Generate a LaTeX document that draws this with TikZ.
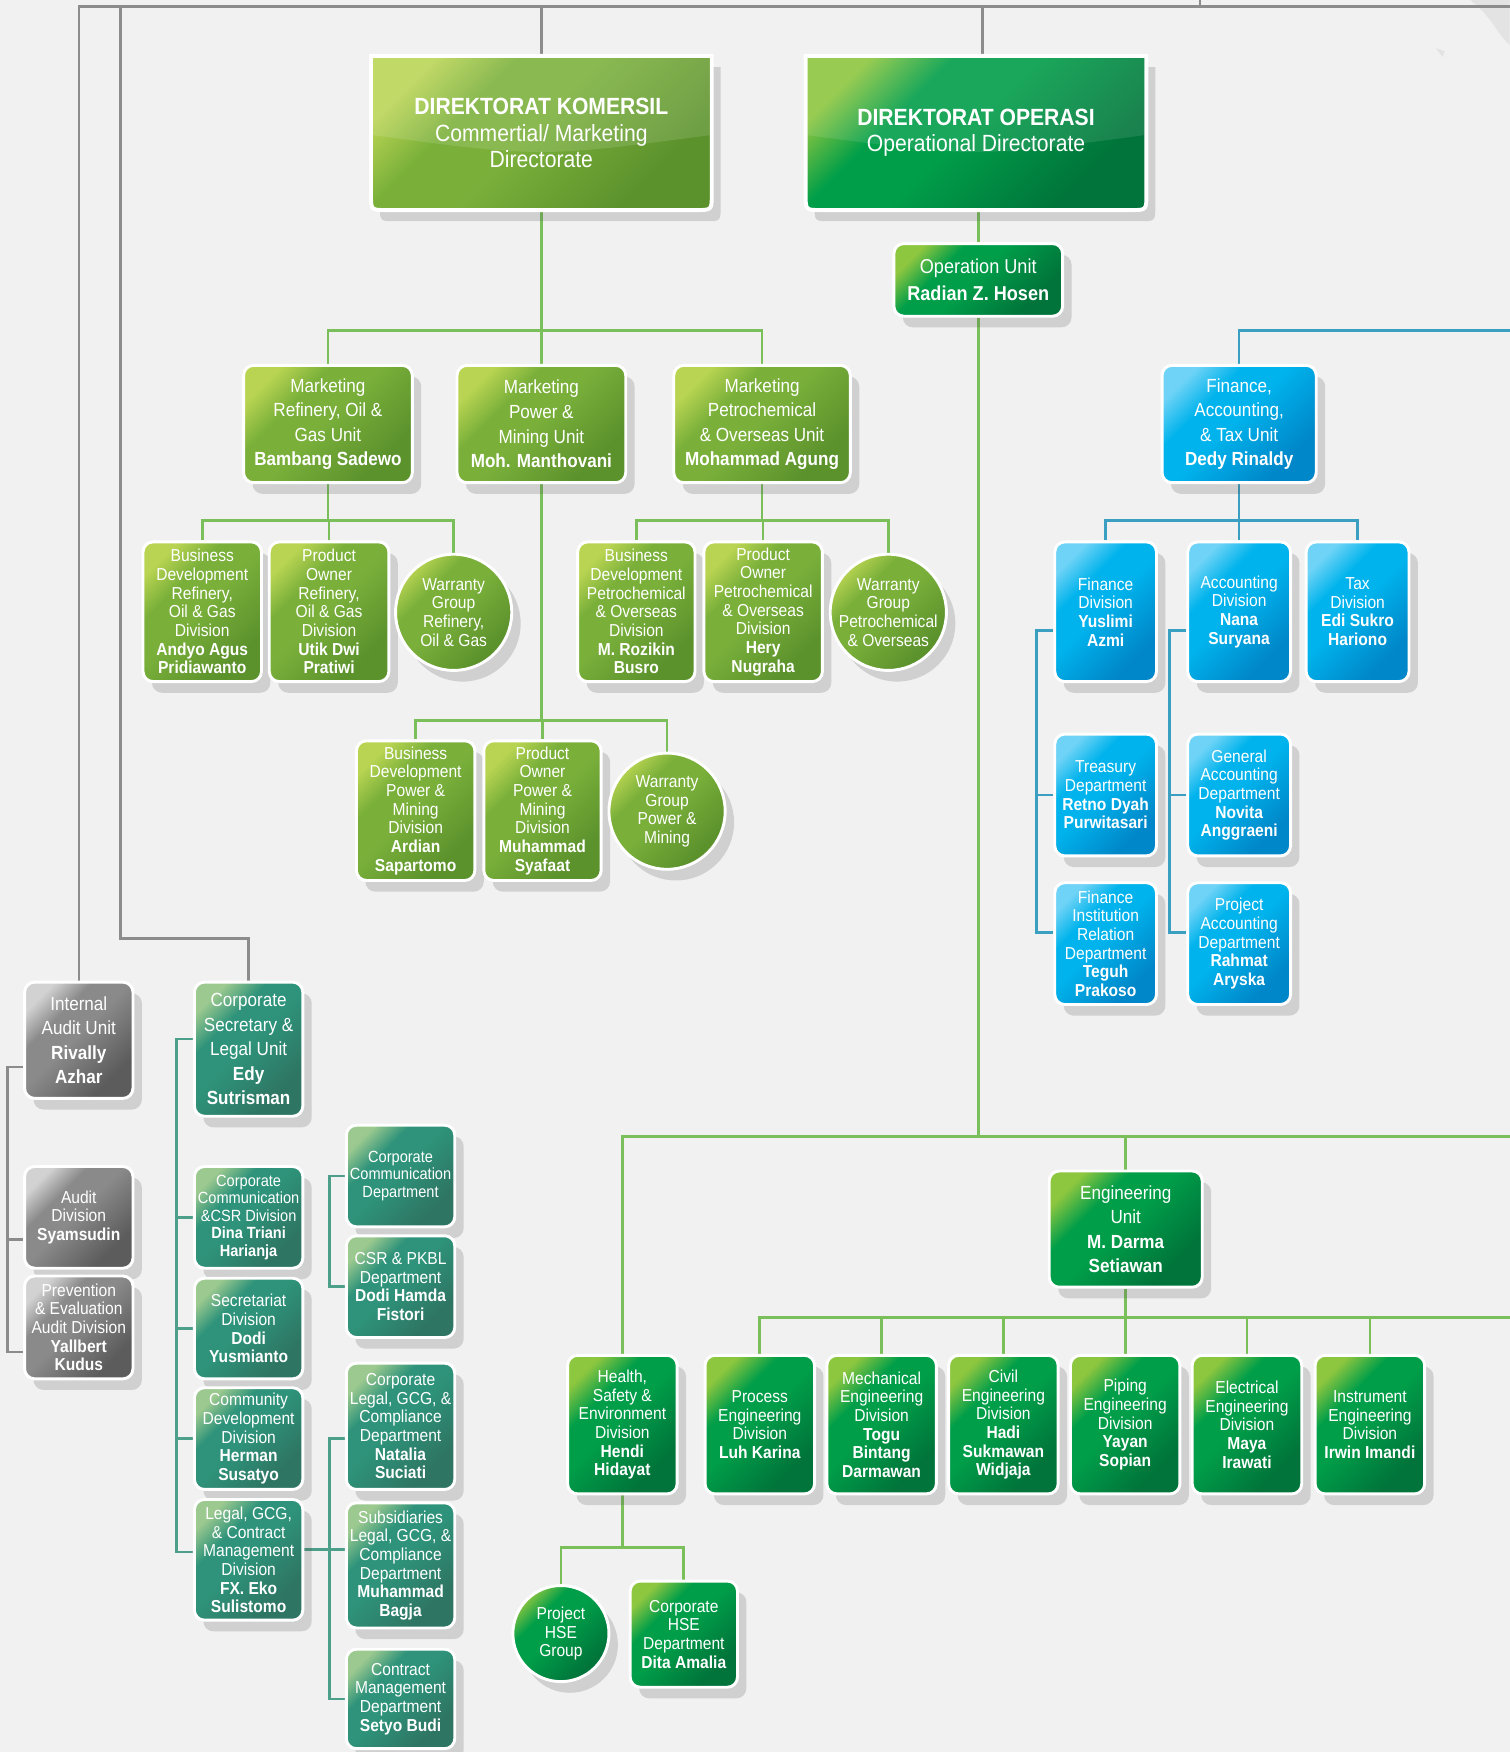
\documentclass[tikz,border=0pt]{standalone}
\usepackage{fontspec}
\setmainfont{Liberation Sans}[FakeStretch=0.9]
\usetikzlibrary{shadows,backgrounds}

\definecolor{bgc}{HTML}{F1F1F1}
\definecolor{mapc}{HTML}{E3E3E3}
\definecolor{lgA}{HTML}{B9D452}\definecolor{lgB}{HTML}{7AB03A}\definecolor{lgC}{HTML}{5C922C}
\definecolor{dgA}{HTML}{8DC63F}\definecolor{dgB}{HTML}{009E49}\definecolor{dgC}{HTML}{00743A}
\definecolor{blA}{HTML}{6ED3F6}\definecolor{blB}{HTML}{00B3EC}\definecolor{blC}{HTML}{0087C9}
\definecolor{tlA}{HTML}{9CC98F}\definecolor{tlB}{HTML}{2E937A}\definecolor{tlC}{HTML}{2E7563}
\definecolor{grA}{HTML}{D2D2D2}\definecolor{grB}{HTML}{8A8A8A}\definecolor{grC}{HTML}{5C5C5C}
\definecolor{lnG}{HTML}{7BBF5A}\definecolor{lnB}{HTML}{3A9FC0}
\definecolor{lnT}{HTML}{4C9F88}\definecolor{lnK}{HTML}{8C8C8C}

% glossy fills: light corner at top left, main tone, darker bottom right
\newcommand\glossshading[4]{\pgfdeclareverticalshading{#1}{100bp}{%
  color(0bp)=(#4); color(28bp)=(#4); color(52bp)=(#3); color(64bp)=(#3);
  color(76bp)=(#2); color(100bp)=(#2)}}
\glossshading{shLG}{lgA}{lgB}{lgC}
\glossshading{shDG}{dgA}{dgB}{dgC}
\glossshading{shBL}{blA}{blB}{blC}
\glossshading{shTL}{tlA}{tlB}{tlC}
\glossshading{shGR}{grA}{grB}{grC}

\tikzset{
  boxshadow/.style={drop shadow={shadow xshift=8pt, shadow yshift=-10pt, opacity=0.2, fill=black!70}},
  orgbox/.style={rectangle, rounded corners=9pt, draw=white, line width=2.6pt,
    align=center, text=white, inner sep=1pt, boxshadow},
  orgdisc/.style={circle, draw=white, line width=2.6pt, inner sep=0pt, boxshadow},
  fillLG/.style={shading=shLG, shading angle=45},
  fillDG/.style={shading=shDG, shading angle=45},
  fillBL/.style={shading=shBL, shading angle=45},
  fillTL/.style={shading=shTL, shading angle=45},
  fillGR/.style={shading=shGR, shading angle=45},
  fdir/.style={font=\fontsize{21}{23.5}\selectfont},
  fbig/.style={font=\fontsize{17}{22}\selectfont},
  fou/.style={font=\fontsize{18}{24}\selectfont},
  fsmall/.style={font=\fontsize{15.5}{16.7}\selectfont},
  fsmaller/.style={font=\fontsize{14.5}{15.6}\selectfont},
  discText/.style={text=white, align=center, fsmall, inner sep=0pt},
  gline/.style={draw=lnG, line width=2.4pt},
  bline/.style={draw=lnB, line width=2.4pt},
  tline/.style={draw=lnT, line width=2.4pt},
  kline/.style={draw=lnK, line width=2.2pt},
}

% box: name, x1, y1, x2, y2, style, text
\newcommand\bx[7]{\node[#6, minimum width={(#4-#2)*1pt}, minimum height={(#5-#3)*1pt}]
  (#1) at ({(#2+#4)/2},{(#3+#5)/2}) {#7};}
% disc: name, cx, cy, diameter, style, text
\newcommand\dsc[6]{\node[orgdisc, #5, minimum size={#4*1pt},
  label={[discText]center:{#6}}] (#1) at (#2,#3) {};}

\begin{document}
\begin{tikzpicture}[x=1pt,y=-1pt]
\useasboundingbox (0,0) rectangle (1351,1568);
\begin{scope}[on background layer]
  \fill[bgc] (0,0) rectangle (1351,1568);
  \fill[mapc] (1316,0) -- (1351,0) -- (1351,40) .. controls (1344,33) .. (1338,24)
    .. controls (1330,13) .. (1316,0) -- cycle;
  \fill[mapc] (1285,43) -- (1293,46) -- (1291,51) -- cycle;
\end{scope}

% ---------- directorates ----------
\path[fillLG, draw=white, line width=3.5pt, boxshadow]
  (332,50) -- (637,50) -- (637,174) .. controls (637,188) .. (623,188)
  -- (346,188) .. controls (332,188) .. (332,174) -- cycle;
\fill[white, opacity=0.12] (334,52) -- (635,52) -- (635,121)
  .. controls (484,141) .. (334,121) -- cycle;
\node[fdir, text=white, align=center, minimum width=305pt, minimum height=138pt, inner sep=0pt]
  (dk) at (484.5,119) {\textbf{DIREKTORAT KOMERSIL}\\Commertial/ Marketing\\Directorate};

\path[fillDG, draw=white, line width=3.5pt, boxshadow]
  (721,50) -- (1026,50) -- (1026,174) .. controls (1026,188) .. (1012,188)
  -- (735,188) .. controls (721,188) .. (721,174) -- cycle;
\fill[white, opacity=0.10] (723,52) -- (1024,52) -- (1024,121)
  .. controls (873,141) .. (723,121) -- cycle;
\node[fdir, text=white, align=center, minimum width=305pt, minimum height=138pt, inner sep=0pt]
  (do) at (873.5,119) {\textbf{DIREKTORAT OPERASI}\\Operational Directorate};

% ---------- marketing ----------
\bx{mr}{218}{327}{369}{432}{orgbox,fillLG,fbig}{Marketing\\Refinery, Oil \&\\Gas Unit\\\textbf{Bambang Sadewo}}
\bx{mp}{409}{327}{560}{432}{orgbox,fillLG,fbig}{Marketing\\Power \&\\Mining Unit\\\textbf{Moh. Manthovani}}
\bx{mpe}{603}{327}{761}{432}{orgbox,fillLG,fbig}{Marketing\\Petrochemical\\\& Overseas Unit\\\textbf{Mohammad Agung}}

\bx{bda}{128}{485}{234}{610}{orgbox,fillLG,fsmall}{Business\\Development\\Refinery,\\Oil \& Gas\\Division\\\textbf{Andyo Agus}\\\textbf{Pridiawanto}}
\bx{poa}{241}{485}{348}{610}{orgbox,fillLG,fsmall}{Product\\Owner\\Refinery,\\Oil \& Gas\\Division\\\textbf{Utik Dwi}\\\textbf{Pratiwi}}
\dsc{wga}{406}{548}{104}{fillLG}{Warranty\\Group\\Refinery,\\Oil \& Gas}

\bx{bdc}{517}{485}{622}{610}{orgbox,fillLG,fsmall}{Business\\Development\\Petrochemical\\\& Overseas\\Division\\\textbf{M. Rozikin}\\\textbf{Busro}}
\bx{poc}{630}{485}{736}{610}{orgbox,fillLG,fsmall}{Product\\Owner\\Petrochemical\\\& Overseas\\Division\\\textbf{Hery}\\\textbf{Nugraha}}
\dsc{wgc}{795}{548}{104}{fillLG}{Warranty\\Group\\Petrochemical\\\& Overseas}

\bx{bdb}{319}{663}{425}{788}{orgbox,fillLG,fsmall}{Business\\Development\\Power \&\\Mining\\Division\\\textbf{Ardian}\\\textbf{Sapartomo}}
\bx{pob}{433}{663}{538}{788}{orgbox,fillLG,fsmall}{Product\\Owner\\Power \&\\Mining\\Division\\\textbf{Muhammad}\\\textbf{Syafaat}}
\dsc{wgb}{597}{726}{104}{fillLG}{Warranty\\Group\\Power \&\\Mining}

% ---------- operations ----------
\bx{ou}{800}{218}{951}{283}{orgbox,fillDG,fou}{Operation Unit\\\textbf{Radian Z. Hosen}}
\bx{eu}{939}{1048}{1076}{1152}{orgbox,fillDG,fbig}{Engineering\\Unit\\\textbf{M. Darma}\\\textbf{Setiawan}}

\bx{hse}{508}{1213}{606}{1337}{orgbox,fillDG,fsmall}{Health,\\Safety \&\\Environment\\Division\\\textbf{Hendi}\\\textbf{Hidayat}}
\bx{prc}{631}{1213}{729}{1337}{orgbox,fillDG,fsmall}{Process\\Engineering\\Division\\\textbf{Luh Karina}}
\bx{mec}{740}{1213}{838}{1337}{orgbox,fillDG,fsmall}{Mechanical\\Engineering\\Division\\\textbf{Togu}\\\textbf{Bintang}\\\textbf{Darmawan}}
\bx{civ}{849}{1213}{947}{1337}{orgbox,fillDG,fsmall}{Civil\\Engineering\\Division\\\textbf{Hadi}\\\textbf{Sukmawan}\\\textbf{Widjaja}}
\bx{pip}{958}{1213}{1056}{1337}{orgbox,fillDG,fsmall}{Piping\\Engineering\\Division\\\textbf{Yayan}\\\textbf{Sopian}}
\bx{ele}{1067}{1213}{1165}{1337}{orgbox,fillDG,fsmall}{Electrical\\Engineering\\Division\\\textbf{Maya}\\\textbf{Irawati}}
\bx{ins}{1177}{1213}{1275}{1337}{orgbox,fillDG,fsmall}{Instrument\\Engineering\\Division\\\textbf{Irwin Imandi}}

\dsc{phg}{502}{1462}{86}{fillDG}{Project\\HSE\\Group}
\bx{chse}{564}{1415}{660}{1510}{orgbox,fillDG,fsmall}{Corporate\\HSE\\Department\\\textbf{Dita Amalia}}

% ---------- finance ----------
\bx{fu}{1040}{327}{1178}{432}{orgbox,fillBL,fbig}{Finance,\\Accounting,\\\& Tax Unit\\\textbf{Dedy Rinaldy}}
\bx{fd}{944}{485}{1035}{610}{orgbox,fillBL,fsmall}{Finance\\Division\\\textbf{Yuslimi}\\\textbf{Azmi}}
\bx{acd}{1063}{485}{1155}{610}{orgbox,fillBL,fsmall}{Accounting\\Division\\\textbf{Nana}\\\textbf{Suryana}}
\bx{txd}{1169}{485}{1261}{610}{orgbox,fillBL,fsmall}{Tax\\Division\\\textbf{Edi Sukro}\\\textbf{Hariono}}
\bx{trd}{944}{657}{1035}{766}{orgbox,fillBL,fsmall}{Treasury\\Department\\\textbf{Retno Dyah}\\\textbf{Purwitasari}}
\bx{fir}{944}{790}{1035}{899}{orgbox,fillBL,fsmall}{Finance\\Institution\\Relation\\Department\\\textbf{Teguh}\\\textbf{Prakoso}}
\bx{gad}{1063}{657}{1155}{766}{orgbox,fillBL,fsmall}{General\\Accounting\\Department\\\textbf{Novita}\\\textbf{Anggraeni}}
\bx{pad}{1063}{790}{1155}{899}{orgbox,fillBL,fsmall}{Project\\Accounting\\Department\\\textbf{Rahmat}\\\textbf{Aryska}}

% ---------- internal audit ----------
\bx{ia}{22}{879}{119}{983}{orgbox,fillGR,fbig}{Internal\\Audit Unit\\\textbf{Rivally}\\\textbf{Azhar}}
\bx{aud}{22}{1044}{119}{1135}{orgbox,fillGR,fsmall}{Audit\\Division\\\textbf{Syamsudin}}
\bx{pev}{22}{1142}{119}{1234}{orgbox,fillGR,fsmall}{Prevention\\\& Evaluation\\Audit Division\\\textbf{Yallbert}\\\textbf{Kudus}}

% ---------- corporate secretary ----------
\bx{cs}{174}{879}{271}{999}{orgbox,fillTL,fbig}{Corporate\\Secretary \&\\Legal Unit\\\textbf{Edy}\\\textbf{Sutrisman}}
\bx{ccs}{174}{1044}{271}{1135}{orgbox,fillTL,fsmaller}{Corporate\\Communication\\\&CSR Division\\\textbf{Dina Triani}\\\textbf{Harianja}}
\bx{sec}{174}{1144}{271}{1234}{orgbox,fillTL,fsmall}{Secretariat\\Division\\\textbf{Dodi}\\\textbf{Yusmianto}}
\bx{cdv}{174}{1242}{271}{1333}{orgbox,fillTL,fsmall}{Community\\Development\\Division\\\textbf{Herman}\\\textbf{Susatyo}}
\bx{lgc}{174}{1342}{271}{1450}{orgbox,fillTL,fsmall}{Legal, GCG,\\\& Contract\\Management\\Division\\\textbf{FX. Eko}\\\textbf{Sulistomo}}

\bx{ccd}{310}{1007}{407}{1098}{orgbox,fillTL,fsmaller}{Corporate\\Communication\\Department}
\bx{csr}{310}{1106}{407}{1197}{orgbox,fillTL,fsmall}{CSR \& PKBL\\Department\\\textbf{Dodi Hamda}\\\textbf{Fistori}}
\bx{clg}{310}{1220}{407}{1333}{orgbox,fillTL,fsmall}{Corporate\\Legal, GCG, \&\\Compliance\\Department\\\textbf{Natalia}\\\textbf{Suciati}}
\bx{slg}{310}{1345}{407}{1457}{orgbox,fillTL,fsmall}{Subsidiaries\\Legal, GCG, \&\\Compliance\\Department\\\textbf{Muhammad}\\\textbf{Bagja}}
\bx{cmd}{310}{1476}{407}{1565}{orgbox,fillTL,fsmall}{Contract\\Management\\Department\\\textbf{Setyo Budi}}

% ---------- connectors ----------
\coordinate (top) at (0,6);
\coordinate (topR) at (1351,6);
\coordinate (mapA) at (1074,0);
\coordinate (mapB) at (1074,6);
\coordinate (bendCS) at (108,840);
\coordinate (busM) at (0,296);
\coordinate (busMa) at (0,466);
\coordinate (busMb) at (0,645);
\coordinate (busF) at (1351,296);
\coordinate (busE) at (0,1017);
\coordinate (busER) at (1351,1017);
\coordinate (busD) at (0,1179);
\coordinate (busDR) at (1351,1179);
\coordinate (busH) at (0,1385);

\begin{scope}[on background layer]
  % board level
  \draw[kline] (ia.north) -- (ia.north |- top) -- (topR);
  \draw[kline] (mapA) -- (mapB);
  \draw[kline] (cs.north) |- (bendCS) -- (bendCS |- top);
  \draw[kline] (dk.north) -- (dk.north |- top);
  \draw[kline] ([xshift=6pt]do.north) -- ([xshift=6pt]do.north |- top);
  % commercial
  \draw[gline] (dk.south) -- (mp.north);
  \draw[gline] (mr.north) -- (mr.north |- busM) -- (mpe.north |- busM) -- (mpe.north);
  \draw[gline] (mr.south) -- (mr.south |- busMa);
  \draw[gline] (bda.north) -- (bda.north |- busMa) -- (wga.north |- busMa) -- (wga.north);
  \draw[gline] (poa.north) -- (poa.north |- busMa);
  \draw[gline] (mpe.south) -- (mpe.south |- busMa);
  \draw[gline] (bdc.north) -- (bdc.north |- busMa) -- (wgc.north |- busMa) -- (wgc.north);
  \draw[gline] (poc.north) -- (poc.north |- busMa);
  \draw[gline] (mp.south) -- (mp.south |- busMb);
  \draw[gline] (bdb.north) -- (bdb.north |- busMb) -- (wgb.north |- busMb) -- (wgb.north);
  \draw[gline] (pob.north) -- (pob.north |- busMb);
  % operations
  \draw[gline] (ou.north) -- (ou.north |- do.south);
  \draw[gline] (ou.south) -- (ou.south |- busE);
  \draw[gline] (hse.north) -- (hse.north |- busE) -- (busER);
  \draw[gline] (eu.north) -- (eu.north |- busE);
  \draw[gline] (eu.south) -- (eu.south |- busD);
  \draw[gline] (prc.north) -- (prc.north |- busD) -- (busDR);
  \foreach \n in {mec,civ,pip,ele,ins} \draw[gline] (\n.north) -- (\n.north |- busD);
  \draw[gline] (hse.south) -- (hse.south |- busH);
  \draw[gline] (phg.north) -- (phg.north |- busH) -- (chse.north |- busH) -- (chse.north);
  % finance
  \draw[bline] (fu.north) |- (busF);
  \draw[bline] (fu.south) -- (fu.south |- busMa);
  \draw[bline] (fd.north) -- (fd.north |- busMa) -- (txd.north |- busMa) -- (txd.north);
  \draw[bline] (acd.north) -- (acd.north |- busMa);
  \draw[bline] ([yshift=-17pt]fd.west) -- ++(-15,0) |- ([yshift=10pt]fir.west);
  \draw[bline] (trd.west) -- ++(-15,0);
  \draw[bline] ([yshift=-17pt]acd.west) -- ++(-15,0) |- ([yshift=10pt]pad.west);
  \draw[bline] (gad.west) -- ++(-15,0);
  % internal audit
  \draw[kline] ([yshift=-24pt]ia.west) -- ++(-14,0) |- ([yshift=-22pt]pev.west);
  \draw[kline] ([yshift=-20pt]aud.west) -- ++(-14,0);
  % corporate secretary
  \draw[tline] ([yshift=9pt]cs.west) -- ++(-15,0) |- ([yshift=7pt]lgc.west);
  \foreach \n in {ccs,sec,cdv} \draw[tline] (\n.west) -- ++(-15,0);
  \draw[tline] (ccd.west) -- ++(-14,0) |- (csr.west);
  \draw[tline] ([yshift=-11pt]clg.west) -- ++(-14,0) |- (cmd.west);
  \draw[tline] ([yshift=9pt]lgc.east) -- ([yshift=9pt]lgc.east -| slg.west);
\end{scope}
\end{tikzpicture}
\end{document}
